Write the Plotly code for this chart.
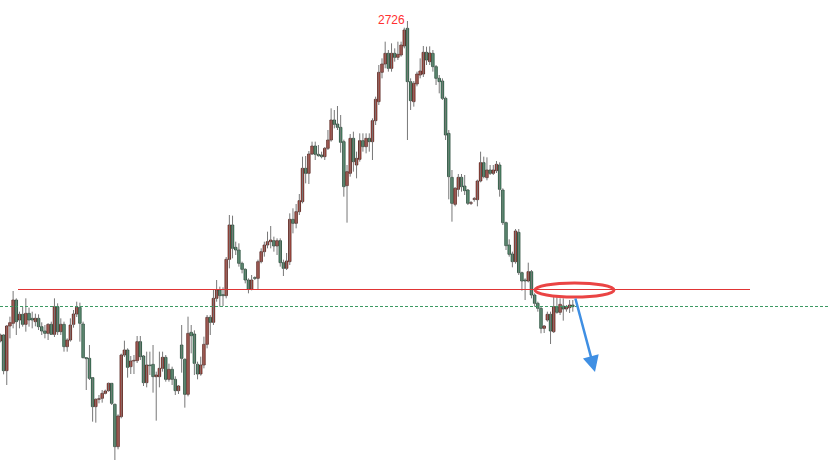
import plotly.graph_objects as go

open_ = [2246, 2255, 2201.5, 2268.5, 2272.5, 2307.5, 2277.5, 2286, 2271, 2287.5,
         2280, 2275, 2280, 2267.5, 2261, 2257.5, 2271, 2256, 2297.5, 2260,
         2271, 2237.5, 2247.5, 2271, 2286.5, 2296.5, 2271.5, 2221, 2220, 2191,
         2147.5, 2158.5, 2160, 2167.5, 2171.5, 2182.5, 2151, 2087.5, 2132.5, 2225,
         2232.5, 2207.5, 2216, 2216.5, 2245, 2223.5, 2183.5, 2210, 2211, 2192.5,
         2192.5, 2205, 2221.5, 2188.5, 2203.5, 2188.5, 2171.5, 2240, 2218.5, 2166,
         2259, 2256.5, 2211, 2196.5, 2210, 2241, 2281.5, 2274, 2310, 2322.5,
         2315.5, 2314, 2368.5, 2420, 2386.5, 2382.5, 2362.5, 2353.5, 2337.5, 2323.5,
         2341, 2340, 2365, 2380, 2390, 2395, 2396.5, 2388.5, 2396.5, 2363.5,
         2355, 2365, 2428.5, 2422.5, 2440, 2455, 2505, 2497.5, 2526.5, 2538.5,
         2526, 2525, 2522.5, 2535, 2547.5, 2577.5, 2571.5, 2566.5, 2545, 2479,
         2497.5, 2550, 2510, 2518.5, 2546.5, 2537.5, 2550, 2545, 2576.5, 2605,
         2649, 2661.5, 2677.5, 2655, 2677.5, 2671.5, 2675, 2688.5, 2715, 2635,
         2605, 2631.5, 2645, 2646.5, 2679, 2665, 2677.5, 2657.5, 2640, 2636,
         2610, 2557.5, 2491.5, 2451, 2473.5, 2491.5, 2478.5, 2472.5, 2452.5, 2458.5,
         2458, 2486, 2513.5, 2491, 2502.5, 2497.5, 2501.5, 2510, 2472.5, 2423.5,
         2390, 2376.5, 2365, 2409, 2348.5, 2337.5, 2336, 2350, 2315, 2302.5,
         2295, 2265, 2277.5, 2286, 2260, 2297.5, 2289, 2298.5, 2294, 2296, 2300]

high = [2257, 2256, 2270, 2282.5, 2321, 2310, 2290, 2297.5, 2310, 2296,
        2290, 2287, 2286, 2274, 2270, 2272.5, 2275, 2310, 2302.5, 2280,
        2275, 2250, 2280, 2292.5, 2305, 2303.5, 2275, 2222, 2240, 2192,
        2160, 2165, 2172.5, 2173, 2183.5, 2183, 2152, 2136, 2227, 2246.5,
        2235, 2223.5, 2225, 2253.5, 2253.5, 2225, 2230, 2230, 2240, 2200,
        2230, 2230, 2225, 2212, 2207.5, 2193, 2180, 2270, 2220, 2282.5,
        2270, 2262, 2215, 2222.5, 2252.5, 2285, 2285, 2322.5, 2337.5, 2327.5,
        2326.5, 2372, 2435, 2434, 2395, 2392.5, 2365, 2355, 2340, 2345,
        2343, 2368, 2385, 2395, 2410, 2418.5, 2402.5, 2400, 2400, 2368,
        2378, 2437.5, 2445, 2451.5, 2466.5, 2522.5, 2523.5, 2531, 2545, 2545,
        2540, 2530, 2537, 2562.5, 2595, 2592.5, 2598.5, 2585, 2548, 2510,
        2556.5, 2560, 2530, 2557.5, 2557.5, 2557.5, 2557.5, 2580, 2612.5, 2660,
        2670, 2695, 2682.5, 2692.5, 2685, 2695, 2695, 2716, 2726, 2640,
        2636, 2650, 2670, 2688.5, 2687.5, 2688, 2682.5, 2660, 2645, 2640,
        2612.5, 2562.5, 2502.5, 2477, 2496.5, 2496.5, 2495, 2474, 2456, 2462,
        2488, 2530, 2522.5, 2521.5, 2510, 2510, 2516, 2514, 2475, 2425,
        2398.5, 2380, 2414, 2414, 2350, 2340, 2363.5, 2352.5, 2317.5, 2305,
        2297.5, 2270, 2290, 2290, 2312.5, 2312.5, 2310, 2310, 2300, 2307.5, 2307.5]

low = [2244, 2196, 2180, 2250, 2265, 2255, 2265, 2267.5, 2260, 2267.5,
       2265, 2268, 2262.5, 2255, 2250, 2247.5, 2255, 2252, 2255, 2255,
       2230, 2230, 2245, 2266, 2282, 2245, 2220, 2172.5, 2187.5, 2125,
       2123.5, 2152.5, 2153.5, 2166, 2170, 2150, 2067.5, 2083.5, 2130, 2222,
       2191, 2196.5, 2196.5, 2213, 2217.5, 2178.5, 2176.5, 2195, 2168.5, 2126.5,
       2176.5, 2200, 2185, 2185, 2180, 2165, 2166.5, 2198.5, 2146, 2163,
       2227.5, 2195, 2188.5, 2194, 2205, 2235, 2255, 2270, 2305, 2297.5,
       2298.5, 2310, 2355, 2370, 2375, 2357.5, 2347.5, 2332.5, 2317.5, 2322,
       2337.5, 2323.5, 2362.5, 2372.5, 2385, 2385, 2380, 2375, 2357.5, 2343.5,
       2352.5, 2360, 2407.5, 2415, 2435, 2452.5, 2482.5, 2481.5, 2525, 2517.5,
       2522.5, 2520, 2517.5, 2532.5, 2545, 2565, 2562.5, 2528.5, 2462.5, 2423.5,
       2492.5, 2500, 2490, 2515, 2530, 2527.5, 2530, 2517.5, 2570, 2600,
       2640, 2655, 2650, 2650, 2665, 2667.5, 2672.5, 2685, 2547.5, 2592.5,
       2597.5, 2628, 2640, 2642, 2660, 2660, 2650, 2630, 2617.5, 2607.5,
       2547.5, 2458.5, 2425, 2448, 2462.5, 2470, 2465, 2450, 2450, 2455,
       2448, 2484, 2490, 2487, 2495, 2495, 2498, 2462.5, 2420, 2382.5,
       2372.5, 2356.5, 2362, 2345, 2321.5, 2307.5, 2334, 2310, 2297.5, 2290,
       2257.5, 2258, 2275, 2241.5, 2258, 2287, 2285, 2276.5, 2290, 2288, 2290]

close = [2255, 2201.5, 2268.5, 2273.5, 2307.5, 2275, 2286, 2271, 2287.5, 2277.5,
         2277.5, 2280, 2267.5, 2261, 2257.5, 2271, 2256, 2297.5, 2260, 2271,
         2237.5, 2247.5, 2270, 2286.5, 2296.5, 2272.5, 2221, 2219.5, 2190, 2147.5,
         2158.5, 2159.5, 2167.5, 2171, 2182.5, 2152.5, 2087.5, 2133.5, 2225, 2232.5,
         2206.5, 2216, 2217, 2245, 2222.5, 2183.5, 2210, 2209, 2192.5, 2195,
         2205, 2221.5, 2188.5, 2203.5, 2188.5, 2171.5, 2178.5, 2220, 2166, 2257.5,
         2254, 2212.5, 2196.5, 2210, 2241, 2281.5, 2274, 2310, 2322.5, 2314,
         2314, 2368.5, 2420, 2385, 2382.5, 2362.5, 2353.5, 2337.5, 2323.5, 2337.5,
         2340, 2365, 2380, 2390, 2395, 2397.5, 2388.5, 2396.5, 2363.5, 2355,
         2366, 2428.5, 2422.5, 2440, 2456.5, 2505, 2497.5, 2526.5, 2538.5, 2526,
         2524, 2522.5, 2535, 2547.5, 2577.5, 2571, 2566.5, 2544, 2477.5, 2500,
         2550, 2515, 2520, 2546.5, 2537.5, 2550, 2545, 2576.5, 2608.5, 2649,
         2661.5, 2677.5, 2655, 2677.5, 2671.5, 2676, 2690, 2712.5, 2635, 2606.5,
         2632.5, 2646.5, 2651, 2679, 2667.5, 2678, 2657.5, 2640, 2635, 2610,
         2555, 2492.5, 2452.5, 2475, 2491.5, 2477.5, 2471.5, 2452.5, 2453.5, 2459.5,
         2486, 2513.5, 2492.5, 2502.5, 2497.5, 2502.5, 2511, 2473.5, 2423.5, 2389,
         2376, 2365, 2411, 2348.5, 2336, 2336, 2350, 2315, 2302.5, 2295,
         2265, 2268.5, 2286, 2261, 2297.5, 2289, 2301, 2294, 2296.5, 2300, 2297.5]

resistance_level = 2323.25
last_price_level = 2297.75
peak_label = "2726"

idx = list(range(len(open_)))

# wicks
wx, wy = [], []
for i in idx:
    wx += [i, i, None]
    wy += [low[i], high[i], None]

UP_FILL, UP_LINE = "#d43b2c", "#4a1d18"
DN_FILL, DN_LINE = "#3fa06d", "#1f4030"

base = [min(o, c) for o, c in zip(open_, close)]
height = [abs(c - o) for o, c in zip(open_, close)]
fills = [UP_FILL if c > o else DN_FILL for o, c in zip(open_, close)]
lines = [UP_LINE if c > o else DN_LINE for o, c in zip(open_, close)]

fig = go.Figure()
fig.add_trace(go.Scatter(x=wx, y=wy, mode="lines",
                         line=dict(color="#777777", width=1),
                         hoverinfo="skip", showlegend=False))
fig.add_trace(go.Bar(x=idx, y=height, base=base, width=0.78,
                     marker=dict(color=fills, line=dict(color=lines, width=0.8)),
                     showlegend=False))

W, H = 828, 461
fig.update_layout(
    width=W, height=H,
    margin=dict(l=0, r=0, t=0, b=0),
    paper_bgcolor="white", plot_bgcolor="white",
    showlegend=False,
    xaxis=dict(range=[-0.126, 260.25], visible=False, fixedrange=True),
    yaxis=dict(range=[2066, 2757.5], visible=False, fixedrange=True),
    bargap=0,
)

# horizontal resistance line (solid red)
fig.add_shape(type="line", xref="paper", yref="y",
              x0=18 / W, x1=750 / W, y0=resistance_level, y1=resistance_level,
              line=dict(color="#e03535", width=1))
# dashed current-price line (green)
fig.add_shape(type="line", xref="paper", yref="y",
              x0=0, x1=1, y0=last_price_level, y1=last_price_level,
              line=dict(color="#3c9a63", width=1, dash="3px,2px"))
# red ellipse
fig.add_shape(type="circle", xref="paper", yref="paper",
              x0=535 / W, x1=614 / W, y0=1 - 297 / H, y1=1 - 283 / H,
              line=dict(color="#ea4444", width=3))
# blue arrow
fig.add_annotation(xref="paper", yref="paper", x=595 / W, y=1 - 372 / H,
                   ax=-20, ay=-75, axref="pixel", ayref="pixel",
                   showarrow=True, arrowhead=2, arrowsize=1.3, arrowwidth=2.5,
                   arrowcolor="#3f8fe3", text="")
# peak label
fig.add_annotation(xref="paper", yref="paper", x=391 / W, y=1 - 20 / H,
                   xanchor="center", yanchor="middle", showarrow=False,
                   text=peak_label,
                   font=dict(family="Liberation Sans, Arial", size=12, color="#ff3030"))

fig.write_html("out.html",
               config={"displayModeBar": False, "staticPlot": True},
               post_script="document.body.style.margin='0';document.body.style.overflow='hidden';")
